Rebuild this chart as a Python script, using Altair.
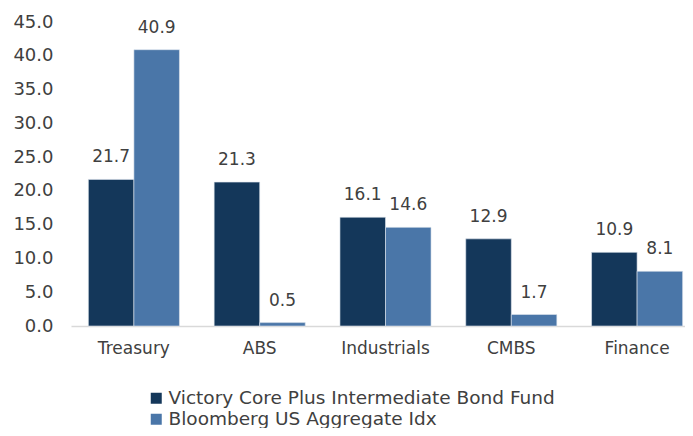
import altair as alt
import pandas as pd

categories = ["Treasury", "ABS", "Industrials", "CMBS", "Finance"]
series = ["Victory Core Plus Intermediate Bond Fund", "Bloomberg US Aggregate Idx"]
fund_values = [21.7, 21.3, 16.1, 12.9, 10.9]
index_values = [40.9, 0.5, 14.6, 1.7, 8.1]
colors = ["#14375A", "#4A76A8"]
y_ticks = [0, 5, 10, 15, 20, 25, 30, 35, 40, 45]

rows = []
for c, f, i in zip(categories, fund_values, index_values):
    rows.append({"cat": c, "series": series[0], "value": f})
    rows.append({"cat": c, "series": series[1], "value": i})
df = pd.DataFrame(rows)

FONT = "DejaVu Sans"
TXT = "#404040"

x = alt.X("cat:N", sort=categories, title=None,
          scale=alt.Scale(paddingInner=0.276, paddingOuter=0.138),
          axis=alt.Axis(labelAngle=0, ticks=False, domainColor="#D9D9D9", domainWidth=1.5,
                        labelFontSize=17, labelColor=TXT, labelPadding=14, labelFont=FONT,
                        labelLimit=0))
xoff = alt.XOffset("series:N", sort=series)
y = alt.Y("value:Q", title=None,
          scale=alt.Scale(domain=[0, 45], nice=False),
          axis=alt.Axis(values=y_ticks, format=".1f", domain=False, ticks=False, grid=False,
                        labelFontSize=18, labelColor=TXT, labelPadding=18, labelFont=FONT))
color = alt.Color("series:N", sort=series, scale=alt.Scale(domain=series, range=colors),
                  legend=alt.Legend(title=None, orient="none", legendX=76, legendY=367,
                                    direction="vertical", symbolType="square", symbolSize=121,
                                    labelFontSize=18.5, labelColor=TXT, labelFont=FONT,
                                    rowPadding=2, labelOffset=3, symbolStrokeWidth=0,
                                    labelLimit=0))

bars = alt.Chart(df).mark_bar(stroke="#dfe6ee", strokeWidth=0.6).encode(
    x=x, xOffset=xoff, y=y, color=color)
labels = alt.Chart(df).mark_text(baseline="middle", dy=-22, fontSize=17, color=TXT, font=FONT).encode(
    x=x, xOffset=xoff, y=y, text=alt.Text("value:Q", format=".1f"))

chart = (bars + labels).properties(
    width=629, height=304,
    autosize=alt.AutoSizeParams(type="none"),
    padding={"left": 63, "top": 14, "right": -15, "bottom": 102},
).configure_view(stroke=None)

chart.save("out.html", embed_options={"renderer": "svg", "actions": False})
